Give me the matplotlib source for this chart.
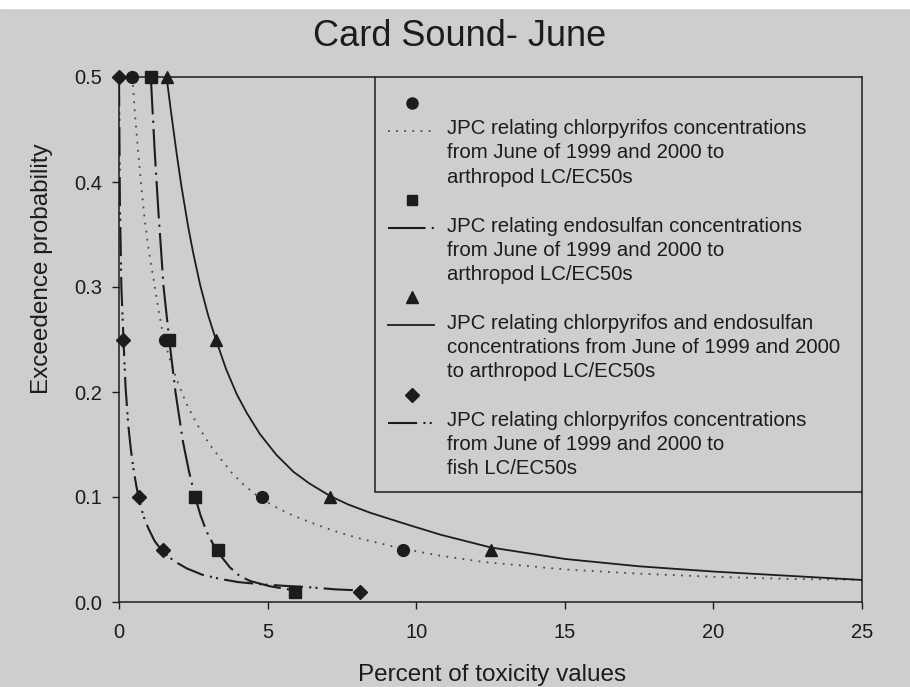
import matplotlib
matplotlib.use("Agg")
import matplotlib.pyplot as plt
from matplotlib.patches import Rectangle

plt.rcParams["font.family"] = ["Liberation Sans", "DejaVu Sans"]

BG = "#cecece"
INK = "#1c1c1c"

# observed points (percent of toxicity values, exceedence probability)
chlor_x = [0.45, 1.55, 4.8, 9.55]
chlor_y = [0.5, 0.25, 0.1, 0.05]
endo_x = [1.07, 1.69, 2.56, 3.34, 5.92]
endo_y = [0.5, 0.25, 0.1, 0.05, 0.01]
both_x = [1.6, 3.26, 7.1, 12.5]
both_y = [0.5, 0.25, 0.1, 0.05]
fish_x = [0.0, 0.15, 0.68, 1.47, 8.1]
fish_y = [0.5, 0.25, 0.1, 0.05, 0.01]

# fitted curves
chlor_fit_x = [0.45, 0.55, 0.65, 0.76, 0.87, 1.0, 1.16, 1.32, 1.49, 1.7, 1.94,
               2.25, 2.61, 3.0, 3.40, 3.8, 4.18, 4.7, 5.23, 5.8, 6.43, 7.2, 8.03,
               9.49, 10.83, 12.3, 15, 17.5, 20, 22.5, 25]
chlor_fit_y = [0.5, 0.46, 0.427, 0.393, 0.363, 0.335, 0.308, 0.28, 0.253, 0.232, 0.212,
               0.19, 0.17, 0.152, 0.137, 0.123, 0.112, 0.1, 0.091, 0.083, 0.076, 0.068, 0.061,
               0.051, 0.044, 0.038, 0.031, 0.027, 0.024, 0.022, 0.021]
endo_fit_x = [1.07, 1.2, 1.33, 1.5, 1.69, 1.9, 2.15, 2.35, 2.56, 2.75, 2.95,
              3.15, 3.34, 3.73, 4.05, 4.41, 5.08, 5.92]
endo_fit_y = [0.5, 0.43, 0.37, 0.30, 0.25, 0.2, 0.153, 0.125, 0.1, 0.082, 0.067,
              0.056, 0.047, 0.033, 0.025, 0.02, 0.015, 0.011]
both_fit_x = [1.6, 1.75, 1.94, 2.1, 2.33, 2.5, 2.73, 3.0, 3.26, 3.6, 3.96, 4.3,
              4.74, 5.3, 5.87, 6.4, 7.1, 7.7, 8.45, 9.79, 10.83, 12.5, 15, 17.5,
              20, 22.5, 25]
both_fit_y = [0.5, 0.467, 0.427, 0.396, 0.357, 0.332, 0.302, 0.273, 0.25, 0.222, 0.198, 0.18,
              0.160, 0.14, 0.124, 0.113, 0.101, 0.093, 0.085, 0.073, 0.064, 0.052, 0.041, 0.034,
              0.029, 0.025, 0.021]
fish_fit_x = [0.0, 0.03, 0.08, 0.15, 0.22, 0.31, 0.4, 0.48, 0.58, 0.68, 0.82,
              0.99, 1.2, 1.47, 1.85, 2.28, 2.8, 3.40, 4.0, 4.74, 5.5, 6.43, 7.3, 8.1]
fish_fit_y = [0.5, 0.38, 0.3, 0.25, 0.205, 0.169, 0.145, 0.128, 0.111, 0.097, 0.082,
              0.07, 0.058, 0.048, 0.039, 0.032, 0.026, 0.022, 0.019, 0.017, 0.0155, 0.014, 0.012, 0.011]

labels = [
    "JPC relating chlorpyrifos concentrations\nfrom June of 1999 and 2000 to\narthropod LC/EC50s",
    "JPC relating endosulfan concentrations\nfrom June of 1999 and 2000 to\narthropod LC/EC50s",
    "JPC relating chlorpyrifos and endosulfan\nconcentrations from June of 1999 and 2000\nto arthropod LC/EC50s",
    "JPC relating chlorpyrifos concentrations\nfrom June of 1999 and 2000 to\nfish LC/EC50s",
]

styles = [
    dict(marker="o", ms=8.5, ls=(0, (1, 3.5)), lw=1.3, color="#4a4a4a"),
    dict(marker="s", ms=8, ls=(0, (18, 3, 1, 3)), lw=1.5, color=INK),
    dict(marker="^", ms=8.5, ls="-", lw=1.3, color=INK),
    dict(marker="D", ms=7.5, ls=(0, (14, 3, 1, 2, 1, 3)), lw=1.5, color=INK),
]

fig = plt.figure(figsize=(9.1, 6.87), dpi=100, facecolor=BG)
fig.patches.append(Rectangle((0, 1 - 8 / 687), 1, 8 / 687, transform=fig.transFigure,
                             color="white", zorder=0))
ax = fig.add_axes([119 / 910, 1 - 602 / 687, 743 / 910, 525 / 687])
ax.set_facecolor(BG)

series = [
    (chlor_x, chlor_y, chlor_fit_x, chlor_fit_y),
    (endo_x, endo_y, endo_fit_x, endo_fit_y),
    (both_x, both_y, both_fit_x, both_fit_y),
    (fish_x, fish_y, fish_fit_x, fish_fit_y),
]
for (px, py, fx, fy), st in zip(series, styles):
    ax.plot(fx, fy, linestyle=st["ls"], lw=st["lw"], color=st["color"], zorder=2)
    ax.plot(px, py, linestyle="none", marker=st["marker"], ms=st["ms"],
            color=INK, clip_on=False, zorder=3)

ax.set_xlim(0, 25)
ax.set_ylim(0, 0.5)
ax.set_xticks([0, 5, 10, 15, 20, 25])
ax.set_yticks([0.0, 0.1, 0.2, 0.3, 0.4, 0.5])
ax.set_yticklabels(["0.0", "0.1", "0.2", "0.3", "0.4", "0.5"])
ax.tick_params(direction="out", length=5, width=1, colors=INK, labelsize=14.5)
ax.tick_params(axis="y", pad=7)
ax.tick_params(axis="x", pad=10)
for s in ax.spines.values():
    s.set_color(INK)
    s.set_linewidth(1.1)

fig.text(492 / 910, 1 - 675 / 687, "Percent of toxicity values", ha="center",
         va="center", fontsize=17.5, color=INK)
fig.text(42 / 910, 1 - 269 / 687, "Exceedence probability", ha="center",
         va="center", rotation=90, fontsize=17.5, color=INK)
fig.text(460 / 910, 1 - 37 / 687, "Card Sound- June", ha="center", va="center",
         fontsize=26, color=INK)


# hand-built legend box in the upper right of the axes
def fx_(px):
    return (px - 119) / 743


def fy_(py):
    return (602 - py) / 525


x0 = fx_(375)
y0 = fy_(492)
ax.add_patch(Rectangle((x0, y0), 1 - x0, 1 - y0, transform=ax.transAxes,
                       facecolor=BG, edgecolor=INK, lw=1.1, zorder=4))
step = 97.2
for k, (lab, st) in enumerate(zip(labels, styles)):
    ym = fy_(103 + k * step)
    yl = fy_(131 + k * step)
    yt = fy_(153 + k * step)
    ax.plot([fx_(412)], [ym], marker=st["marker"], ms=st["ms"] - 0.5,
            color=INK, transform=ax.transAxes, zorder=5, clip_on=False)
    ax.plot([fx_(388), fx_(434)], [yl, yl], linestyle=st["ls"],
            lw=st["lw"], color=st["color"], transform=ax.transAxes, zorder=5)
    ax.text(fx_(447), yt, lab, transform=ax.transAxes, va="center",
            ha="left", fontsize=14.7, color=INK, linespacing=1.34, zorder=5)

fig.savefig("out.png", dpi=100, facecolor=BG)
